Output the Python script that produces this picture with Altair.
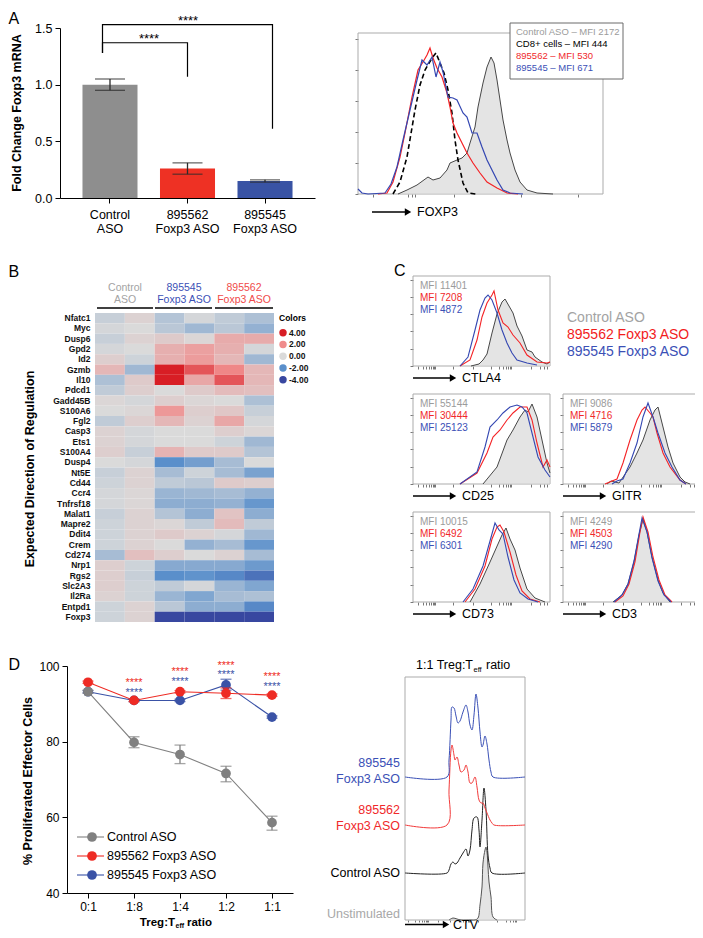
import altair as alt
import pandas as pd

# ======================= DATA =======================
# ---- Panel A: qPCR bar chart ----
a_groups = ["Control|ASO", "895562|Foxp3 ASO", "895545|Foxp3 ASO"]
a_mean = [1.00, 0.26, 0.15]
a_low = [0.95, 0.21, 0.14]
a_high = [1.05, 0.31, 0.16]
a_colors = ["#8e8e8e", "#ee3124", "#3953a4"]
a_br1_y = [1.28, 1.37, 1.37, 1.07]
a_br2_y = [1.28, 1.53, 1.53, 0.61]

# ---- Panel A: FOXP3 histogram (channel, count) ----
foxp3_ctrl_u = [40, 49, 59, 70, 75, 82, 89, 92, 99, 104, 109, 112, 117, 120, 125, 129, 133, 136, 139, 142, 145, 149, 152, 157, 162, 169, 179, 195]
foxp3_ctrl_n = [0, 4, 9, 17, 14, 16, 24, 31, 34, 36, 41, 51, 67, 87, 111, 127, 137, 131, 114, 94, 74, 54, 41, 24, 12, 4, 1, 0]
foxp3_562_u = [20, 29, 35, 42, 47, 54, 60, 65, 69, 72, 75, 79, 84, 89, 92, 95, 99, 104, 109, 115, 122, 129, 139, 149, 160]
foxp3_562_n = [0, 1, 12, 37, 61, 97, 124, 132, 139, 146, 136, 126, 117, 101, 87, 71, 61, 51, 41, 31, 21, 12, 6, 1, 0]
foxp3_545_u = [0, 4, 10, 27, 33, 39, 45, 52, 59, 64, 69, 74, 78, 82, 85, 90, 95, 99, 105, 109, 114, 119, 124, 129, 134, 139, 145, 152, 165]
foxp3_545_n = [5, 1, 0, 1, 10, 27, 54, 84, 114, 134, 129, 137, 117, 132, 122, 97, 96, 94, 81, 77, 61, 61, 47, 34, 24, 14, 4, 1, 0]
foxp3_cd8_u = [35, 42, 49, 57, 62, 67, 74, 78, 82, 86, 90, 94, 97, 100, 105, 110, 118]
foxp3_cd8_n = [0, 12, 37, 84, 109, 124, 136, 141, 131, 121, 104, 81, 54, 34, 11, 1, 0]

# ---- Panel B: heatmap ----
genes = ["Nfatc1", "Myc", "Dusp6", "Gpd2", "Id2", "Gzmb", "Il10", "Pdcd1", "Gadd45B", "S100A6",
         "Fgl2", "Casp3", "Ets1", "S100A4", "Dusp4", "Nt5E", "Cd44", "Ccr4", "Tnfrsf18", "Malat1",
         "Mapre2", "Ddit4", "Crem", "Cd274", "Nrp1", "Rgs2", "Slc2A3", "Il2Ra", "Entpd1", "Foxp3"]
hm_cols = ["ctrl_1", "ctrl_2", "aso545_1", "aso545_2", "aso562_1", "aso562_2"]
hm_ctrl_1 = [-0.3, -0.1, -0.3, -0.1, 0.3, 0.9, -0.7, -0.4, 0.1, 0.0, -0.4, 0.2, 0.2, 0.3, 0.0, -0.3, -0.2, -0.1, -0.1, -0.3, -0.2, -0.2, -0.2, -0.8, 0.3, 0.3, 0.3, 0.2, -0.2, -0.2]
hm_ctrl_2 = [0.2, 0.0, 0.2, 0.0, -0.2, -0.9, 0.4, 0.3, -0.1, 0.1, 0.3, -0.1, -0.1, -0.3, -0.1, 0.2, 0.2, 0.1, 0.1, 0.2, 0.2, 0.2, 0.2, 0.7, -0.2, -0.3, -0.2, -0.2, 0.2, 0.2]
hm_545_1 = [-0.6, -0.5, 0.4, 1.1, 1.1, 4.0, 4.0, 0.0, 0.3, 1.7, 0.9, 0.0, 0.0, 1.0, -2.0, -0.8, -0.4, -1.0, -1.2, -0.6, 0.1, 0.4, 0.0, 0.3, -1.3, -2.0, -0.4, -1.0, -0.5, -4.0]
hm_545_2 = [-0.1, -0.9, 0.1, 1.5, 1.6, 3.0, 1.3, 0.4, 0.1, 0.3, 0.2, 0.0, 0.0, 0.4, -1.6, -0.2, -0.5, -0.9, -1.2, -1.2, -0.4, 0.2, -1.1, 0.0, -1.3, -1.9, -0.1, -1.4, -1.2, -4.0]
hm_562_1 = [-0.4, -0.5, 1.2, 1.1, 0.9, 2.1, 3.0, 0.8, 0.0, 0.5, 1.3, 0.3, -0.2, 0.4, -0.8, -0.8, 0.4, -0.8, -1.1, 0.6, 0.8, -0.1, -0.8, 0.2, -1.3, -2.2, -1.0, -0.8, -1.2, -4.0]
hm_562_2 = [-0.7, -1.1, 1.2, -0.1, -0.9, 0.9, 0.9, 0.7, -0.7, -0.3, -0.1, 0.1, -0.9, -0.6, 0.0, -1.5, 0.3, -1.1, -1.8, -1.2, -0.4, -0.9, -1.8, -0.8, -1.7, -2.8, -1.4, -0.7, -2.2, -4.0]
hm_legend_vals = [4, 2, 0, -2, -4]
hm_legend_labels = ["4.00", "2.00", "0.00", "-2.00", "-4.00"]

# ---- Panel C: flow histograms (channel, count) ----
ctla4 = {
    "ctrl": ([58, 66, 70, 74, 79, 84, 89, 92, 96, 100, 104, 109, 114, 119, 122, 129, 134, 137],
             [0, 2, 6, 12, 33, 52, 64, 67, 60, 53, 40, 30, 16, 14, 9, 4, 2, 4]),
    "562": ([47, 57, 64, 69, 74, 79, 81, 85, 90, 95, 100, 107, 114, 124, 134, 137],
            [0, 6, 26, 49, 63, 71, 75, 56, 43, 39, 31, 23, 11, 4, 3, 4]),
    "545": ([47, 55, 62, 67, 72, 75, 79, 84, 89, 94, 99, 104, 114, 124],
            [0, 9, 36, 56, 68, 71, 66, 53, 36, 23, 13, 6, 3, 1]),
}
cd25 = {
    "ctrl": ([70, 84, 94, 100, 107, 112, 115, 119, 124, 129, 134, 137],
             [0, 17, 44, 54, 67, 74, 72, 80, 67, 44, 21, 11]),
    "562": ([47, 64, 74, 80, 87, 94, 100, 107, 114, 119, 124, 130, 134, 137],
            [0, 11, 31, 47, 54, 64, 71, 77, 77, 64, 41, 17, 24, 17]),
    "545": ([47, 64, 72, 77, 84, 90, 97, 104, 109, 114, 119, 125, 132, 137],
            [0, 12, 37, 57, 64, 71, 77, 79, 77, 71, 51, 27, 14, 7]),
}
gitr = {
    "ctrl": ([44, 48, 52, 56, 67, 74, 80, 87, 92, 95, 100, 105, 110, 117, 122, 127],
             [0, 3, 2, 1, 17, 31, 44, 64, 74, 77, 57, 37, 21, 7, 2, 0]),
    "562": ([42, 49, 54, 60, 67, 74, 79, 82, 87, 90, 94, 100, 107, 117, 123],
            [0, 3, 5, 21, 44, 64, 74, 77, 71, 67, 51, 31, 17, 4, 0]),
    "545": ([49, 54, 60, 67, 74, 80, 85, 90, 95, 102, 109, 117, 123],
            [0, 3, 5, 21, 41, 67, 81, 67, 51, 31, 17, 4, 0]),
}
cd73 = {
    "ctrl": ([57, 67, 77, 85, 89, 93, 97, 102, 107, 114, 122, 132],
             [0, 18, 40, 58, 67, 74, 63, 52, 34, 13, 4, 0]),
    "562": ([52, 62, 72, 79, 84, 87, 91, 97, 103, 109, 117, 127],
            [0, 13, 36, 63, 75, 77, 70, 50, 27, 11, 3, 0]),
    "545": ([50, 60, 70, 77, 82, 86, 90, 95, 101, 107, 115, 125],
            [0, 13, 36, 61, 79, 72, 68, 45, 22, 9, 3, 0]),
}
cd3 = {
    "ctrl": ([50, 59, 65, 71, 76, 80, 84, 89, 95, 100, 107],
             [0, 7, 18, 40, 67, 83, 70, 45, 22, 9, 0]),
    "562": ([52, 60, 66, 72, 77, 80, 85, 90, 96, 102, 109],
            [0, 6, 18, 40, 70, 85, 70, 45, 22, 7, 0]),
    "545": ([51, 59, 65, 71, 76, 79, 84, 89, 95, 101, 108],
            [0, 7, 18, 41, 68, 84, 70, 44, 21, 7, 0]),
}
mfi_ctla4 = ["MFI 11401", "MFI 7208", "MFI 4872"]
mfi_cd25 = ["MFI 55144", "MFI 30444", "MFI 25123"]
mfi_gitr = ["MFI 9086", "MFI 4716", "MFI 5879"]
mfi_cd73 = ["MFI 10015", "MFI 6492", "MFI 6301"]
mfi_cd3 = ["MFI 4249", "MFI 4503", "MFI 4290"]

# ---- Panel D: suppression assay ----
d_ratios = ["0:1", "1:8", "1:4", "1:2", "1:1"]
d_ctrl = [93.2, 79.8, 76.6, 71.6, 58.6]
d_ctrl_lo = [92.8, 78.4, 74.2, 69.4, 56.6]
d_ctrl_hi = [93.6, 81.3, 79.1, 73.5, 60.3]
d_562 = [95.7, 90.9, 93.2, 92.8, 92.3]
d_562_lo = [95.4, 90.6, 92.9, 91.4, 92.0]
d_562_hi = [96.0, 91.2, 93.5, 94.2, 92.6]
d_545 = [93.2, 90.9, 90.9, 95.0, 86.5]
d_545_lo = [92.9, 90.6, 90.6, 93.6, 86.2]
d_545_hi = [93.5, 91.2, 91.2, 96.5, 86.8]
d_star_ratios = ["1:8", "1:4", "1:2", "1:1"]
d_star_red_y = [94.7, 97.5, 99.1, 96.2]
d_star_blue_y = [92.2, 95.0, 96.7, 93.7]

# ---- Panel D: CTV histograms (channel, count, stacked offsets) ----
ctv_545_u = [0, 42, 44, 46, 47, 49, 51, 53, 55, 58, 61, 63, 65, 67, 69, 71, 73, 75, 77, 78, 80, 82, 84, 86, 88, 120]
ctv_545_n = [143, 143, 160, 200, 213, 212, 204, 197, 199, 208, 215, 208, 195, 190, 205, 226, 212, 188, 173, 175, 184, 176, 160, 148, 143, 143]
ctv_562_u = [0, 42, 44, 46, 47, 49, 50, 52, 54, 56, 59, 61, 63, 65, 67, 70, 72, 74, 76, 78, 80, 82, 85, 87, 89, 120]
ctv_562_n = [95, 95, 130, 170, 175, 165, 160, 163, 155, 148, 150, 155, 148, 137, 137, 143, 133, 120, 117, 117, 112, 107, 100, 97, 95, 95]
ctv_ctrl_u = [0, 42, 44, 46, 48, 50, 52, 55, 58, 61, 63, 65, 67, 69, 72, 74, 75, 77, 79, 81, 83, 85, 87, 120]
ctv_ctrl_n = [47, 47, 50, 56, 58, 56, 57, 62, 67, 71, 64, 70, 90, 102, 103, 90, 73, 100, 132, 110, 65, 52, 47, 47]
ctv_unstim_u = [44, 48, 52, 56, 66, 70, 73, 75, 77, 78, 80, 81, 82, 83, 84, 86, 88, 92]
ctv_unstim_n = [0, 2, 1, 0, 0, 0, 2, 15, 33, 57, 70, 73, 68, 53, 38, 23, 3, 0]

# ======================= LAYOUT HELPERS =======================
W, H = 687, 922
M = 8
FONT = "Liberation Sans"
GRAY_T = "#9b9b9b"
RED_T = "#f0282b"
BLUE_T = "#3b50b6"
ONE = pd.DataFrame({"k": [0]})
layers = []


def px(v):
    return v - M


def T(x, y, s, size=12, color="#000000", weight="normal", align="left", baseline="middle", angle=None, lh=None):
    kw = dict(text=s, fontSize=size, color=color, fontWeight=weight, align=align, baseline=baseline, font=FONT)
    if angle is not None:
        kw["angle"] = angle
    if lh is not None:
        kw["lineHeight"] = lh
    layers.append(alt.Chart(ONE).mark_text(**kw).encode(x=alt.value(px(x)), y=alt.value(px(y))))


def ARROW(x0, x1, y):
    layers.append(alt.Chart(ONE).mark_rule(color="#000000", strokeWidth=1.4).encode(
        x=alt.value(px(x0)), x2=alt.value(px(x1 - 5)), y=alt.value(px(y))))
    layers.append(alt.Chart(ONE).mark_point(shape="triangle-right", filled=True, color="#000000", size=55, opacity=1).encode(
        x=alt.value(px(x1 - 4)), y=alt.value(px(y))))


def BOX(x0, y0, x1, y1, stroke="#ababab", sw=1, fill_op=0):
    layers.append(alt.Chart(ONE).mark_rect(fill="#ffffff", fillOpacity=fill_op, stroke=stroke, strokeWidth=sw).encode(
        x=alt.value(px(x0)), x2=alt.value(px(x1)), y=alt.value(px(y0)), y2=alt.value(px(y1))))


def HLINE(x0, x1, y, color="#000000", sw=1.5):
    layers.append(alt.Chart(ONE).mark_rule(color=color, strokeWidth=sw).encode(
        x=alt.value(px(x0)), x2=alt.value(px(x1)), y=alt.value(px(y))))


def flow_panel(left, top, w, h, gray, curves, lticks, bticks, interp="linear", gray_line="#474747", btick=3):
    xs = alt.Scale(domain=[0, w], range=[px(left), px(left + w)], nice=False)
    ys = alt.Scale(domain=[0, h], range=[px(top + h), px(top)], nice=False)
    BOX(left, top, left + w, top + h)
    gdf = pd.DataFrame({"u": gray[0], "v": gray[1]})
    layers.append(alt.Chart(gdf).mark_area(color="#d9d9d9", interpolate=interp,
                                           line={"color": gray_line, "strokeWidth": 1}).encode(
        x=alt.X("u:Q", scale=xs, axis=alt.Axis(orient="bottom", offset=px(top + h) - H, values=bticks, labels=False,
                                               domain=False, tickSize=btick, tickColor="#555555", tickWidth=0.8,
                                               title=None, grid=False)),
        y=alt.Y("v:Q", scale=ys, axis=alt.Axis(orient="left", offset=-px(left), values=lticks, labels=False,
                                               domain=False, tickSize=3, tickColor="#555555", tickWidth=0.8,
                                               title=None, grid=False))))
    for (uu, vv, col, sw, dash) in curves:
        df = pd.DataFrame({"u": uu, "v": vv})
        mk = dict(color=col, strokeWidth=sw, interpolate=interp)
        if dash:
            mk["strokeDash"] = dash
        layers.append(alt.Chart(df).mark_line(**mk).encode(
            x=alt.X("u:Q", scale=xs, axis=None), y=alt.Y("v:Q", scale=ys, axis=None)))


LRED = "#f42326"
LBLUE = "#3447b2"

# ======================= PANEL A (bars) =======================
T(8.5, 24, "A", size=16, baseline="alphabetic")
a_df = pd.DataFrame({"g": a_groups, "m": a_mean, "lo": a_low, "hi": a_high, "c": a_colors})
a_xs = alt.Scale(domain=a_groups, range=[px(60), px(315)], paddingInner=0.29, paddingOuter=0.29)
a_ys = alt.Scale(domain=[0, 1.5], range=[px(198), px(28)], nice=False)
layers.append(alt.Chart(a_df).mark_bar().encode(
    x=alt.X("g:N", scale=a_xs, title=None, axis=alt.Axis(
        orient="bottom", offset=px(198) - H, labelExpr="split(datum.label, '|')", labelAngle=0,
        labelFontSize=12.5, labelLineHeight=14, labelPadding=5, tickSize=5, labelFont=FONT,
        labelColor="#000000", domainColor="#000000", tickColor="#000000", title=None, grid=False)),
    y=alt.Y("m:Q", scale=a_ys, title=None, axis=alt.Axis(
        orient="left", offset=-px(60), values=[0, 0.5, 1.0, 1.5], format=".1f", labelFontSize=12.5,
        tickSize=5, labelPadding=3, labelFont=FONT, labelColor="#000000", domainColor="#000000",
        tickColor="#000000", title=None, grid=False)),
    color=alt.Color("c:N", scale=None)))
layers.append(alt.Chart(a_df).mark_rule(color="#2b2b2b", strokeWidth=1.3).encode(
    x=alt.X("g:N", scale=a_xs, axis=None), y=alt.Y("lo:Q", scale=a_ys, axis=None), y2="hi:Q"))
for fld in ["lo", "hi"]:
    layers.append(alt.Chart(a_df).mark_tick(color="#2b2b2b", thickness=1.3, size=30).encode(
        x=alt.X("g:N", scale=a_xs, axis=None), y=alt.Y(f"{fld}:Q", scale=a_ys, axis=None)))
br_df = pd.DataFrame({
    "g": [a_groups[0], a_groups[0], a_groups[1], a_groups[1], a_groups[0], a_groups[0], a_groups[2], a_groups[2]],
    "y": a_br1_y + a_br2_y, "o": [0, 1, 2, 3, 0, 1, 2, 3], "b": ["b1"] * 4 + ["b2"] * 4})
layers.append(alt.Chart(br_df).mark_line(color="#000000", strokeWidth=1.2).encode(
    x=alt.X("g:N", scale=a_xs, axis=None), y=alt.Y("y:Q", scale=a_ys, axis=None), detail="b:N", order="o:Q"))
T(149, 43, "****", size=13, align="center", baseline="alphabetic")
T(188, 25, "****", size=13, align="center", baseline="alphabetic")
T(17, 113, "Fold Change Foxp3 mRNA", size=12.5, weight="bold", align="center", angle=270)

# ======================= PANEL A (FOXP3 histogram) =======================
flow_panel(358, 33, 245, 161, (foxp3_ctrl_u, foxp3_ctrl_n),
           [(foxp3_cd8_u, foxp3_cd8_n, "#000000", 1.6, [5, 3]),
            (foxp3_562_u, foxp3_562_n, LRED, 1.2, None),
            (foxp3_545_u, foxp3_545_n, LBLUE, 1.2, None)],
           [0, 31, 62, 93, 124, 155], [15, 50, 54, 57, 96, 163, 220])
BOX(510, 23, 623, 79, stroke="#6b6b6b", sw=1, fill_op=1)
T(516, 32, "Control ASO – MFI 2172", size=9.5, color=GRAY_T)
T(516, 44, "CD8+ cells – MFI 444", size=9.5, color="#000000")
T(516, 56, "895562 – MFI 530", size=9.5, color=RED_T)
T(516, 68, "895545 – MFI 671", size=9.5, color=BLUE_T)
ARROW(372, 412, 212)
T(417, 212, "FOXP3", size=12.5)

# ======================= PANEL B (heatmap) =======================
T(8.5, 272, "B", size=16)
hm_arrays = [hm_ctrl_1, hm_ctrl_2, hm_545_1, hm_545_2, hm_562_1, hm_562_2]
hm_rows = []
for cname, vals in zip(hm_cols, hm_arrays):
    for gname, v in zip(genes, vals):
        hm_rows.append({"col": cname, "gene": gname, "val": v})
hm_df = pd.DataFrame(hm_rows)
hm_color = alt.Scale(domain=[-4, -2, 0, 2, 4], range=["#3847a0", "#5a8fcb", "#dadada", "#f08c8c", "#d81e25"],
                     interpolate="rgb")
layers.append(alt.Chart(hm_df).mark_rect().encode(
    x=alt.X("col:N", scale=alt.Scale(domain=hm_cols, range=[px(95), px(274)], paddingInner=0, paddingOuter=0), axis=None),
    y=alt.Y("gene:N", scale=alt.Scale(domain=genes, range=[px(313), px(622)], paddingInner=0, paddingOuter=0),
            axis=alt.Axis(orient="left", offset=-px(95), title=None, ticks=False, domain=False, labelFontSize=8.5,
                          labelFontWeight="bold", labelPadding=5, labelFont=FONT, labelColor="#111111",
                          labelOverlap=False, grid=False)),
    color=alt.Color("val:Q", scale=hm_color, legend=None)))
T(125, 288, ["Control", "ASO"], size=10.5, color="#a3a3a3", align="center", lh=12)
T(184, 288, ["895545", "Foxp3 ASO"], size=10.5, color=BLUE_T, align="center", lh=12)
T(244, 288, ["895562", "Foxp3 ASO"], size=10.5, color="#f04a4a", align="center", lh=12)
HLINE(97, 153, 308)
HLINE(155, 212, 308)
HLINE(215, 273, 308)
T(279, 318, "Colors", size=8.5, weight="bold")
leg_df = pd.DataFrame({"val": hm_legend_vals, "lab": hm_legend_labels})
leg_ys = alt.Scale(domain=hm_legend_labels, range=[px(332.7), px(379.7)], padding=0, type="point")
layers.append(alt.Chart(leg_df).mark_circle(size=55, opacity=1).encode(
    x=alt.value(px(283)), y=alt.Y("lab:N", scale=leg_ys, axis=None), color=alt.Color("val:Q", scale=hm_color, legend=None)))
layers.append(alt.Chart(leg_df).mark_text(align="left", baseline="middle", fontSize=8.5, fontWeight="bold", font=FONT,
                                          color="#111111").encode(
    x=alt.value(px(289)), y=alt.Y("lab:N", scale=leg_ys, axis=None), text="lab:N"))
T(30, 469, "Expected Direction of Regulation", size=12.5, weight="bold", align="center", angle=270)

# ======================= PANEL C =======================
T(394, 271, "C", size=16)
C_L = [0, 17, 35, 52, 69, 86]
C_B = [5, 10, 13, 16, 18, 20, 21, 22, 40, 60, 78, 86, 90, 93, 95, 97, 98, 118, 127, 131, 134]


def c_panel(left, top, data, mfi, label):
    flow_panel(left, top, 137, 90, data["ctrl"],
               [(data["562"][0], data["562"][1], LRED, 1.1, None),
                (data["545"][0], data["545"][1], LBLUE, 1.1, None)], C_L, C_B)
    T(left + 7, top + 10, mfi[0], size=10, color=GRAY_T)
    T(left + 7, top + 22, mfi[1], size=10, color=RED_T)
    T(left + 7, top + 34, mfi[2], size=10, color=BLUE_T)
    ARROW(left, left + 44, top + 102)
    T(left + 49, top + 102, label, size=12.5)


c_panel(413, 276, ctla4, mfi_ctla4, "CTLA4")
c_panel(413, 394, cd25, mfi_cd25, "CD25")
c_panel(563, 394, gitr, mfi_gitr, "GITR")
c_panel(413, 512, cd73, mfi_cd73, "CD73")
c_panel(563, 512, cd3, mfi_cd3, "CD3")
T(567, 318, "Control ASO", size=14, color="#a3a3a3")
T(567, 335, "895562 Foxp3 ASO", size=14, color="#f21c1c")
T(567, 352, "895545 Foxp3 ASO", size=14, color=BLUE_T)

# ======================= PANEL D (line chart) =======================
T(8.5, 665, "D", size=16)
d_xs = alt.Scale(domain=d_ratios, range=[px(67), px(293)], padding=0.4565, type="point")
d_ys = alt.Scale(domain=[40, 100], range=[px(893), px(666)], nice=False)
series = [("545", d_545, d_545_lo, d_545_hi, "#3a52a6"),
          ("562", d_562, d_562_lo, d_562_hi, "#ee2b24"),
          ("ctrl", d_ctrl, d_ctrl_lo, d_ctrl_hi, "#808080")]
first = True
for name, vals, lo, hi, col in series:
    df = pd.DataFrame({"r": d_ratios, "m": vals, "lo": lo, "hi": hi})
    if first:
        xax = alt.Axis(orient="bottom", offset=px(893) - H, labelFontSize=12, labelAngle=0, tickSize=5,
                       labelPadding=3, labelFont=FONT, labelColor="#000000", domainColor="#000000",
                       tickColor="#000000", title=None, grid=False)
        yax = alt.Axis(orient="left", offset=-px(67), values=[40, 60, 80, 100], labelFontSize=12, tickSize=5,
                       labelPadding=3, labelFont=FONT, labelColor="#000000", domainColor="#000000",
                       tickColor="#000000", title=None, grid=False)
    else:
        xax = None
        yax = None
    layers.append(alt.Chart(df).mark_line(color=col, strokeWidth=1.1).encode(
        x=alt.X("r:N", scale=d_xs, axis=xax, title=None, sort=d_ratios),
        y=alt.Y("m:Q", scale=d_ys, axis=yax, title=None)))
    first = False
for name, vals, lo, hi, col in series:
    df = pd.DataFrame({"r": d_ratios, "m": vals, "lo": lo, "hi": hi})
    layers.append(alt.Chart(df).mark_rule(color=col, strokeWidth=1.3).encode(
        x=alt.X("r:N", scale=d_xs, axis=None), y=alt.Y("lo:Q", scale=d_ys, axis=None), y2="hi:Q"))
    for fld in ["lo", "hi"]:
        layers.append(alt.Chart(df).mark_tick(color=col, thickness=1.3, size=11).encode(
            x=alt.X("r:N", scale=d_xs, axis=None), y=alt.Y(f"{fld}:Q", scale=d_ys, axis=None)))
    layers.append(alt.Chart(df).mark_circle(color=col, size=95, opacity=1).encode(
        x=alt.X("r:N", scale=d_xs, axis=None), y=alt.Y("m:Q", scale=d_ys, axis=None)))
for ys_, col in [(d_star_red_y, "#ee2b24"), (d_star_blue_y, "#3a52a6")]:
    sdf = pd.DataFrame({"r": d_star_ratios, "y": ys_})
    layers.append(alt.Chart(sdf).mark_text(text="****", fontSize=11, color=col, align="center",
                                           baseline="alphabetic", font=FONT).encode(
        x=alt.X("r:N", scale=d_xs, axis=None), y=alt.Y("y:Q", scale=d_ys, axis=None)))
# legend
for yy, col, lab in [(837, "#808080", "Control ASO"), (856, "#ee2b24", "895562 Foxp3 ASO"),
                     (875, "#3a52a6", "895545 Foxp3 ASO")]:
    HLINE(77, 104, yy, color=col, sw=1.1)
    layers.append(alt.Chart(ONE).mark_circle(color=col, size=95, opacity=1).encode(
        x=alt.value(px(92)), y=alt.value(px(yy))))
    T(107, yy, lab, size=12.5)
T(28, 781, "% Proliferated Effector Cells", size=12.5, weight="bold", align="center", angle=270)
T(175, 925.5, "Treg:T", size=11.5, weight="bold", align="right", baseline="alphabetic")
T(175.5, 928, "eff", size=7, weight="bold", align="left", baseline="alphabetic")
T(187, 925.5, "ratio", size=11.5, weight="bold", align="left", baseline="alphabetic")

# ======================= PANEL D (CTV) =======================
flow_panel(405, 677, 120, 243, (ctv_unstim_u, ctv_unstim_n),
           [(ctv_ctrl_u, ctv_ctrl_n, "#222222", 1.0, None),
            (ctv_562_u, ctv_562_n, "#f23a3a", 1.0, None),
            (ctv_545_u, ctv_545_n, "#3a50b6", 1.0, None)],
           [], [3, 10, 14, 17, 19, 21, 22, 23, 33, 45, 54, 58, 61, 63, 64, 65, 73, 92, 101, 105, 108, 110, 111],
           interp="catmull-rom", gray_line="#555555", btick=2)
T(473, 669, "1:1 Treg:T", size=12.5, align="right", baseline="alphabetic")
T(473.5, 671.5, "eff", size=7.5, align="left", baseline="alphabetic")
T(486, 669, "ratio", size=12.5, align="left", baseline="alphabetic")
T(400, 763, "895545", size=12.5, color=BLUE_T, align="right")
T(400, 779, "Foxp3 ASO", size=12.5, color=BLUE_T, align="right")
T(400, 810, "895562", size=12.5, color=RED_T, align="right")
T(400, 826, "Foxp3 ASO", size=12.5, color=RED_T, align="right")
T(400, 873, "Control ASO", size=12.5, color="#000000", align="right")
T(400, 914, "Unstimulated", size=12.5, color="#a8a8a8", align="right")
ARROW(405, 450, 924.5)
T(453, 924.5, "CTV", size=12.5)

# ======================= ASSEMBLE =======================
chart = alt.layer(*layers).resolve_scale(
    x="independent", y="independent", color="independent"
).properties(
    width=W, height=H, padding=0, autosize=alt.AutoSizeParams(type="none")
).configure_view(strokeOpacity=0).configure_axis(grid=False)

chart.save("out.html", embed_options={"renderer": "svg", "actions": False})
